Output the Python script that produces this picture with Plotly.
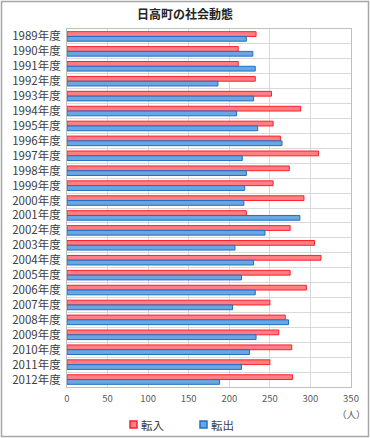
import plotly.graph_objects as go

years = [f"{y}年度" for y in range(1989, 2013)]
tennyu = [233, 211, 211, 232, 252, 288, 254, 263, 310, 274, 254, 292, 221, 275,
          305, 313, 275, 295, 250, 269, 261, 277, 250, 278]
tenshutsu = [221, 229, 232, 186, 230, 209, 235, 265, 216, 221, 219, 218, 287, 244,
             207, 230, 215, 232, 204, 273, 233, 225, 215, 188]
x_ticks = [0, 50, 100, 150, 200, 250, 300, 350]
series_names = ["転入", "転出"]
fills = ["#ff7f85", "#6aa6e0"]
edges = ["#ff1f2a", "#1f6fc8"]

W, H = 370, 438
L, R, T, B = 67, 19, 29, 51
pw, ph = W - L - R, H - T - B


def px_x(p):
    return (p - L) / pw


def px_y(p):
    return 1 - (p - T) / ph


fig = go.Figure()
for name, vals, fc, ec in zip(series_names, [tennyu, tenshutsu], fills, edges):
    fig.add_trace(go.Bar(y=years, x=vals, orientation="h", name=name, showlegend=False,
                         hoverinfo="skip",
                         marker=dict(color=fc, line=dict(color=ec, width=1))))

font_jp = "Noto Sans CJK JP, sans-serif"

fig.update_layout(
    width=W, height=H,
    margin=dict(l=L, r=R, t=T, b=B, autoexpand=False),
    paper_bgcolor="white", plot_bgcolor="white",
    barmode="group", bargap=0.36, bargroupgap=0.0,
    font=dict(family=font_jp, color="#404040"),
    title=dict(text="<b>日高町の社会動態</b>", x=0.5, xanchor="center",
               y=1 - 15 / H, yanchor="middle", font=dict(size=12, color="#262626")),
    xaxis=dict(range=[0, 350], tickvals=x_ticks, showgrid=True, gridcolor="#d9d9d9",
               gridwidth=1, showline=True, linecolor="#bfbfbf", mirror=True,
               zeroline=False, tickfont=dict(size=9.5, color="#595959"), ticks="",
               ticklabelstandoff=3, automargin=False),
    yaxis=dict(type="category", autorange="reversed", showgrid=True, gridcolor="#d9d9d9",
               tickson="boundaries", showline=True, linecolor="#bfbfbf", mirror=True,
               tickfont=dict(size=11.5, color="#404040"), ticks="", ticklabelstandoff=3,
               automargin=False),
    showlegend=False,
)

fig.add_annotation(text="（人）", xref="paper", yref="paper", x=px_x(351), y=px_y(414),
                   showarrow=False, font=dict(size=9.5, color="#595959"),
                   xanchor="center", yanchor="middle")

# legend (manual, compact like the reference)
legend_x = [130, 200]
for lx, name, fc, ec in zip(legend_x, series_names, fills, edges):
    fig.add_shape(type="rect", xref="paper", yref="paper",
                  x0=px_x(lx), x1=px_x(lx + 7), y0=px_y(428), y1=px_y(421),
                  fillcolor=fc, line=dict(color=ec, width=1.5))
    fig.add_annotation(text=name, xref="paper", yref="paper", x=px_x(lx + 9),
                       y=px_y(424.5), showarrow=False, xanchor="left", yanchor="middle",
                       font=dict(size=11.5, color="#404040"))

fig.add_shape(type="rect", xref="paper", yref="paper",
              x0=px_x(1.5), x1=px_x(368.5), y0=px_y(436.5), y1=px_y(1.5),
              line=dict(color="#a6a6a6", width=1.5), layer="below")

fig.write_html("out.html", config={"displayModeBar": False},
               post_script="document.body.style.margin='0';document.body.style.overflow='hidden';")
